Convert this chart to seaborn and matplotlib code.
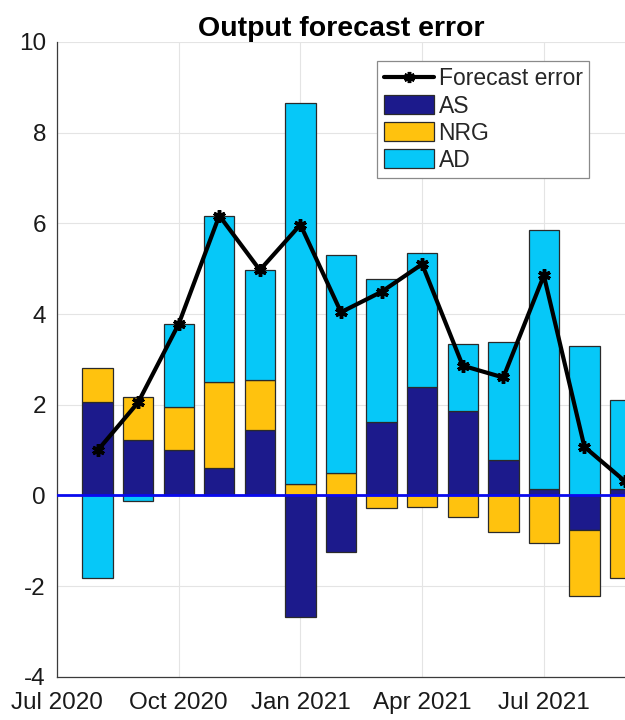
import numpy as np
import pandas as pd
import matplotlib
matplotlib.use("Agg")
import matplotlib.pyplot as plt
from matplotlib.lines import Line2D
from matplotlib.patches import Patch
import seaborn as sns

# Monthly decomposition of the output forecast error (percentage points)
months = ["Aug 2020", "Sep 2020", "Oct 2020", "Nov 2020", "Dec 2020", "Jan 2021",
          "Feb 2021", "Mar 2021", "Apr 2021", "May 2021", "Jun 2021", "Jul 2021",
          "Aug 2021", "Sep 2021"]
as_vals = [2.05, 1.22, 1.00, 0.60, 1.44, -2.69, -1.24, 1.61, 2.40, 1.87, 0.77, 0.14, -0.76, 0.15]
nrg_vals = [0.76, 0.96, 0.94, 1.91, 1.11, 0.25, 0.49, -0.28, -0.25, -0.48, -0.80, -1.05, -1.47, -1.83]
ad_vals = [-1.83, -0.12, 1.85, 3.66, 2.42, 8.40, 4.81, 3.16, 2.94, 1.47, 2.62, 5.72, 3.30, 1.96]
forecast_error = [0.99, 2.05, 3.78, 6.17, 4.97, 5.97, 4.04, 4.49, 5.10, 2.86, 2.60, 4.85, 1.07, 0.31]

tick_labels = ["Jul 2020", "Oct 2020", "Jan 2021", "Apr 2021", "Jul 2021"]
y_ticks = [-4, -2, 0, 2, 4, 6, 8, 10]

series = [("AS", as_vals, "#1c1a8c"),
          ("NRG", nrg_vals, "#ffc20e"),
          ("AD", ad_vals, "#06c8f8")]

sns.set_theme(style="whitegrid")
plt.rcParams["font.family"] = ["Liberation Sans", "DejaVu Sans"]

fig = plt.figure(figsize=(6.25, 7.2), dpi=100)
ax = fig.add_axes([57 / 625, 43.3 / 720, 568 / 625, 634.7 / 720])

# months since Jul 2020
pos = np.arange(1, len(months) + 1)

pos_base = np.zeros(len(months))
neg_base = np.zeros(len(months))
for name, vals, col in series:
    v = np.asarray(vals, dtype=float)
    bottom = np.where(v >= 0, pos_base, neg_base)
    df = pd.DataFrame({"pos": pos, "val": v})
    sns.barplot(data=df, x="pos", y="val", native_scale=True, width=0.75,
                bottom=bottom, color=col, saturation=1, edgecolor="#2a2a2a",
                linewidth=0.9, errorbar=None, ax=ax, zorder=2)
    pos_base = pos_base + np.where(v >= 0, v, 0)
    neg_base = neg_base + np.where(v < 0, v, 0)

ax.axhline(0, color="#0a0aee", lw=2.0, zorder=3)

line_df = pd.DataFrame({"pos": pos, "err": forecast_error})
sns.lineplot(data=line_df, x="pos", y="err", color="black", lw=3,
             marker=(6, 2, 0), markersize=9, markeredgewidth=2.5,
             markeredgecolor="black", ax=ax, zorder=4, legend=False)

ax.set_xlim(0, 14)
ax.set_ylim(-4, 10)
ax.set_xticks([0, 3, 6, 9, 12])
ax.set_xticklabels(tick_labels)
ax.set_yticks(y_ticks)
ax.set_yticklabels([str(t) for t in y_ticks])
ax.set_xlabel("")
ax.set_ylabel("")

ax.set_axisbelow(True)
ax.grid(True, color="#e4e4e4", lw=0.8)
for side in ["top", "right"]:
    ax.spines[side].set_visible(False)
for side in ["left", "bottom"]:
    ax.spines[side].set_color("#3a3a3a")
    ax.spines[side].set_linewidth(0.9)

ax.tick_params(axis="both", direction="in", length=5, width=0.9, color="#3a3a3a",
               labelsize=17.5, labelcolor="#1a1a1a")
ax.tick_params(axis="x", pad=11)
ax.tick_params(axis="y", pad=8)

ax.set_title("Output forecast error", fontsize=20.5, fontweight="bold", pad=4,
             color="black")

handles = [Line2D([0], [0], color="black", lw=3, marker=(6, 2, 0), markersize=8,
                  markeredgewidth=2.5)]
handles += [Patch(facecolor=c, edgecolor="#2a2a2a", linewidth=0.9) for _, _, c in series]
labels = ["Forecast error"] + [n for n, _, _ in series]
leg = ax.legend(handles, labels, loc="upper right", bbox_to_anchor=(0.9366, 0.970),
                borderaxespad=0, fontsize=16.5, frameon=True, fancybox=False,
                handlelength=2.2, handleheight=0.9, handletextpad=0.2,
                labelspacing=0.18, borderpad=0.28)
leg.get_frame().set_edgecolor("#8a8a8a")
leg.get_frame().set_linewidth(0.9)
leg.get_frame().set_alpha(1)

fig.savefig("out.png", dpi=100)
